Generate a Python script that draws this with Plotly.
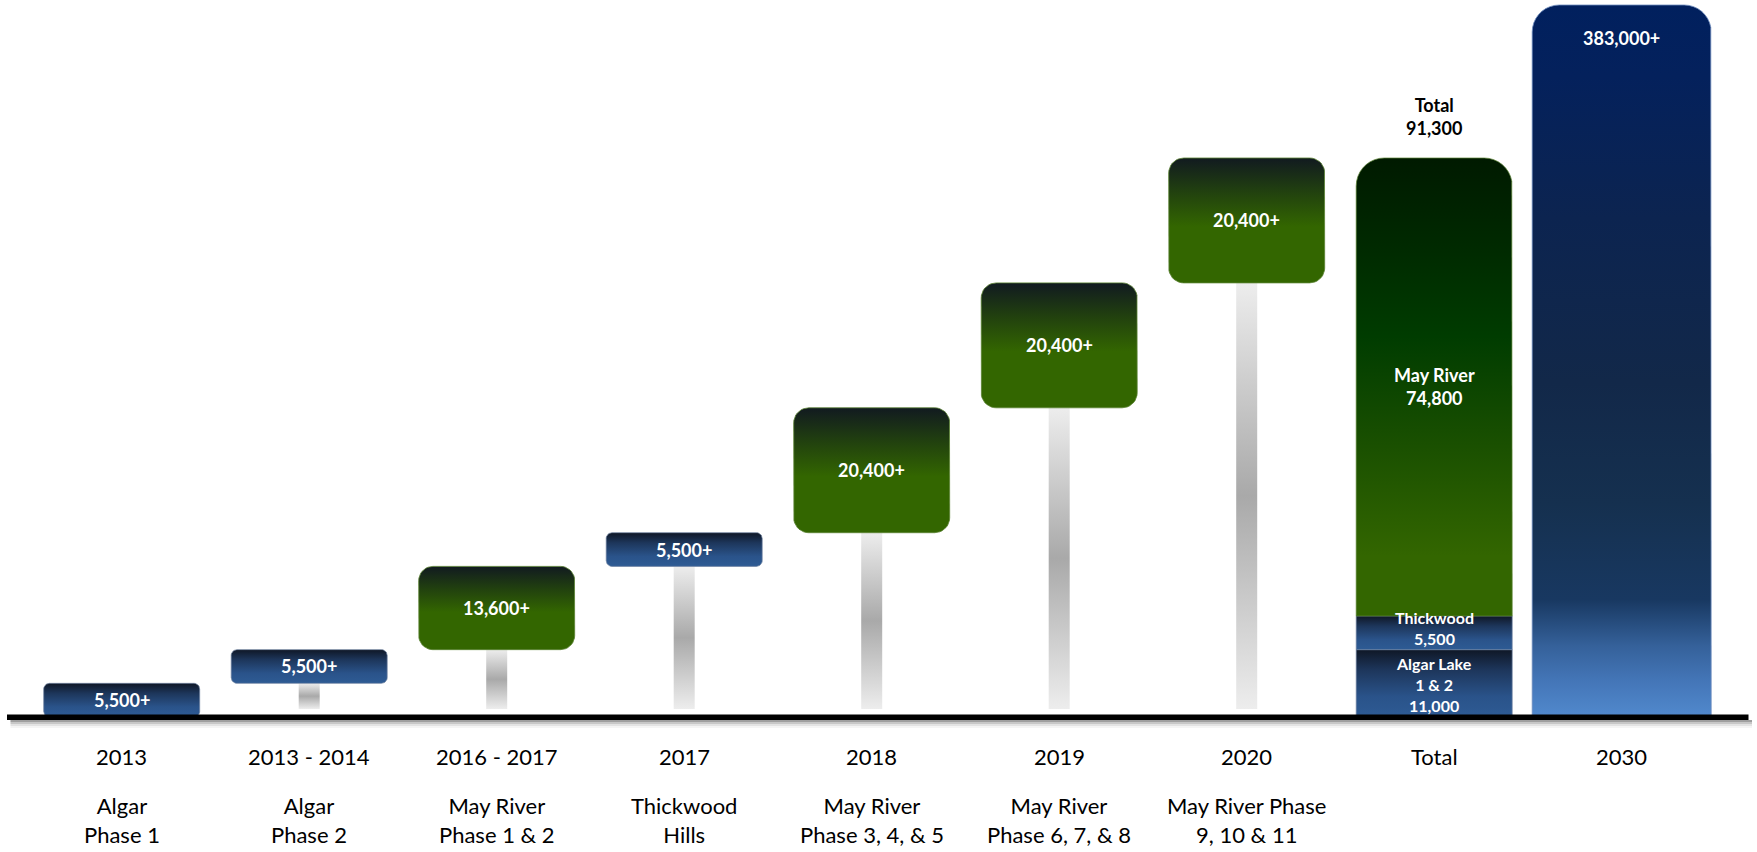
import numpy as np
import plotly.graph_objects as go

# ---------------- data ----------------
years = ["2013", "2013 - 2014", "2016 - 2017", "2017", "2018", "2019", "2020", "Total", "2030"]
projects = ["Algar<br>Phase 1", "Algar<br>Phase 2", "May River<br>Phase 1 & 2", "Thickwood<br>Hills",
            "May River<br>Phase 3, 4, & 5", "May River<br>Phase 6, 7, & 8",
            "May River Phase<br>9, 10 & 11", "", ""]
step_values = [5500, 5500, 13600, 5500, 20400, 20400, 20400]
step_labels = ["5,500+", "5,500+", "13,600+", "5,500+", "20,400+", "20,400+", "20,400+"]
step_kind = ["blue", "blue", "green", "blue", "green", "green", "green"]
total_parts = ["Algar Lake<br>1 & 2<br>11,000", "Thickwood<br>5,500", "May River<br>74,800"]
total_values = [11000, 5500, 74800]
total_kind = ["blue", "blue", "green_total"]
total_value = 91300
total_label = "Total<br>91,300"
future_value = 383000
future_label = "383,000+"

# ---------------- layout constants ----------------
W, H = 1757, 852
ML, MR, MT, MB = 7, 5, 0, 135
PW, PH = W - ML - MR, H - MT - MB
CAT_PX = 187.5            # pixels between category centres
FIRST_CENTER_PX = 121.7   # page x of first category centre
TOTAL_TOP_PX = 158        # page y of the top of the total bar
FUTURE_TOP_PX = 5

x_range = [(ML - FIRST_CENTER_PX) / CAT_PX, (W - MR - FIRST_CENTER_PX) / CAT_PX]
y_max = total_value * PH / (PH - (TOTAL_TOP_PX - MT))
y2_max = future_value * PH / (PH - (FUTURE_TOP_PX - MT))
SY = PH / y_max
SY2 = PH / y2_max

BOX_HALF = 78 / CAT_PX
FUT_HALF = 89.5 / CAT_PX
PIL_HALF = 10.5 / CAT_PX

FONT = "Lato"

CS = {
    "blue": [[0, "#2e5b94"], [0.3, "#2a538a"], [0.7, "#1d365b"], [1, "#0f1726"]],
    "green": [[0, "#336600"], [0.45, "#336600"], [0.72, "#22420e"], [1, "#111a20"]],
    "green_total": [[0, "#336600"], [0.13, "#336600"], [0.37, "#1a5000"], [0.61, "#003c00"],
                    [0.8, "#002a00"], [1, "#001a00"]],
    "future": [[0, "#5189cd"], [0.05, "#4476b8"], [0.1, "#35619a"], [0.165, "#183861"],
               [0.3, "#15304f"], [0.47, "#122849"], [0.7, "#0c2450"], [0.9, "#04215c"],
               [1, "#01205e"]],
    "pillar": [[0, "#ededed"], [0.5, "#a9a9a9"], [1, "#ededed"]],
}
EDGE = {"blue": "rgba(110,130,160,0.7)", "green": "rgba(90,130,50,0.8)",
        "green_total": "rgba(90,130,50,0.7)", "future": "rgba(110,140,190,0.8)",
        "pillar": "rgba(0,0,0,0)"}


def rrect(xc, half_w, y0, y1, r_px, sy, top_only=False, n=10):
    rx = r_px / CAT_PX
    ry = r_px / sy
    xl, xr = xc - half_w, xc + half_w
    t = np.linspace(0, np.pi / 2, n)
    xs, ys = [], []
    if top_only or r_px == 0:
        xs += [xr]; ys += [y0]
    else:
        xs += list(xr - rx + rx * np.sin(t)); ys += list(y0 + ry - ry * np.cos(t))
    if r_px == 0:
        xs += [xr]; ys += [y1]
        xs += [xl]; ys += [y1]
    else:
        xs += list(xr - rx + rx * np.cos(t)); ys += list(y1 - ry + ry * np.sin(t))
        xs += list(xl + rx - rx * np.sin(t)); ys += list(y1 - ry + ry * np.cos(t))
    if top_only or r_px == 0:
        xs += [xl]; ys += [y0]
    else:
        xs += list(xl + rx - rx * np.cos(t)); ys += list(y0 + ry - ry * np.sin(t))
    xs.append(xs[0]); ys.append(ys[0])
    return xs, ys


def shape_trace(xs, ys, kind, axis="y"):
    return go.Scatter(x=xs, y=ys, mode="lines", fill="toself", yaxis=axis,
                      line=dict(width=1, color=EDGE[kind]),
                      fillcolor=CS[kind][0][1],
                      fillgradient=dict(type="vertical", colorscale=CS[kind]),
                      hoverinfo="skip", showlegend=False)


fig = go.Figure()
annotations = []

# waterfall steps
bases = np.concatenate([[0], np.cumsum(step_values)[:-1]])
tops = np.cumsum(step_values)
# pillars first (behind boxes)
for i, b in enumerate(bases):
    if b <= 0:
        continue
    xs, ys = rrect(i, PIL_HALF, 8 / SY, b, 0, SY)
    fig.add_trace(shape_trace(xs, ys, "pillar"))
for i, (b, t, lab, kind) in enumerate(zip(bases, tops, step_labels, step_kind)):
    h_px = (t - b) * SY
    r = min(15, 0.17 * h_px)
    xs, ys = rrect(i, BOX_HALF, b, t, r, SY)
    fig.add_trace(shape_trace(xs, ys, kind))
    annotations.append(dict(x=i, y=(b + t) / 2, xref="x", yref="y", text=f"<b>{lab}</b>",
                            showarrow=False, yanchor="middle",
                            font=dict(family=FONT, size=18, color="white")))

# total bar (stacked)
ti = len(step_values)
tb = 0
seg_shift = [-1, 5, 0]
seg_size = [16, 16, 18]
for j, (lab, v, kind) in enumerate(zip(total_parts, total_values, total_kind)):
    last = j == len(total_values) - 1
    xs, ys = rrect(ti, BOX_HALF, tb, tb + v, 28 if last else 0, SY, top_only=True)
    fig.add_trace(shape_trace(xs, ys, kind))
    annotations.append(dict(x=ti, y=tb + v / 2, xref="x", yref="y", text=f"<b>{lab}</b>",
                            showarrow=False, yanchor="middle", yshift=seg_shift[j],
                            font=dict(family=FONT, size=seg_size[j], color="white")))
    tb += v
annotations.append(dict(x=ti, y=sum(total_values), xref="x", yref="y", text=f"<b>{total_label}</b>",
                        showarrow=False, yanchor="bottom", yshift=17,
                        font=dict(family=FONT, size=18, color="black")))

# 2030 bar
fi = ti + 1
xs, ys = rrect(fi, FUT_HALF, 0, future_value, 27, SY2, top_only=True)
fig.add_trace(shape_trace(xs, ys, "future", axis="y2"))
annotations.append(dict(x=fi, y=future_value, xref="x", yref="y2", text=f"<b>{future_label}</b>",
                        showarrow=False, yanchor="middle", yshift=-33,
                        font=dict(family=FONT, size=18, color="white")))

# category labels
for i, (yr, pr) in enumerate(zip(years, projects)):
    annotations.append(dict(x=i, y=0, xref="x", yref="paper", text=yr, showarrow=False,
                            yanchor="middle", yshift=-39,
                            font=dict(family=FONT, size=22, color="black")))
    if pr:
        annotations.append(dict(x=i, y=0, xref="x", yref="paper", text=pr, showarrow=False,
                                yanchor="middle", yshift=-103,
                                font=dict(family=FONT, size=22, color="black")))

# baseline with soft shadow
shapes = []
for y0, y1, col in [(-11, -3, "rgba(0,0,0,0.04)"), (-9, -3, "rgba(0,0,0,0.07)"),
                    (-7, -3, "rgba(0,0,0,0.12)"), (-5, -3, "rgba(0,0,0,0.2)")]:
    shapes.append(dict(type="rect", xref="paper", yref="paper", x0=0.002, x1=1.0,
                       ysizemode="pixel", yanchor=0, y0=y0, y1=y1,
                       fillcolor=col, line=dict(width=0), layer="above"))
shapes.append(dict(type="rect", xref="paper", yref="paper", x0=0, x1=0.998,
                   ysizemode="pixel", yanchor=0, y0=-3, y1=2.5,
                   fillcolor="black", line=dict(width=0), layer="above"))

fig.update_layout(
    width=W, height=H,
    margin=dict(l=ML, r=MR, t=MT, b=MB, pad=0),
    paper_bgcolor="white", plot_bgcolor="white",
    xaxis=dict(range=x_range, visible=False, fixedrange=True),
    yaxis=dict(range=[0, y_max], visible=False, fixedrange=True),
    yaxis2=dict(range=[0, y2_max], visible=False, overlaying="y", fixedrange=True),
    annotations=annotations, shapes=shapes,
    showlegend=False, hovermode=False,
)

fig.write_html("out.html", config={"displayModeBar": False},
               post_script="document.body.style.margin='0px';document.body.style.overflow='hidden';")
